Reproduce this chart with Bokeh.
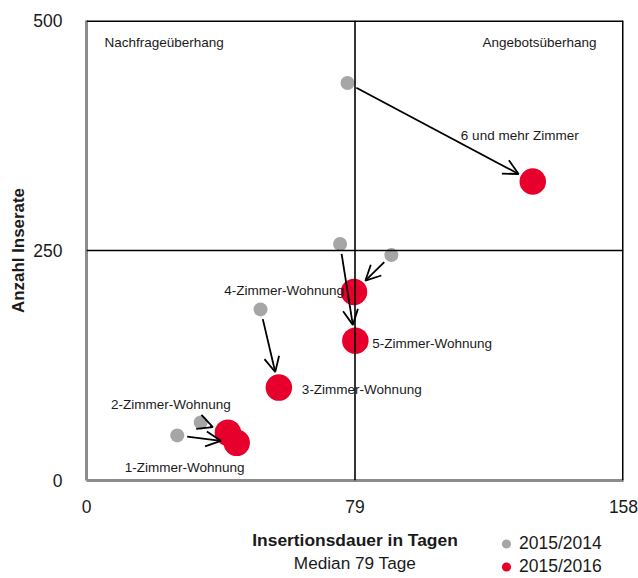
import math
from bokeh.plotting import figure
from bokeh.layouts import column
from bokeh.models import (ColumnDataSource, Range1d, FixedTicker, Span, Arrow, OpenHead,
                          Label, Legend, LegendItem)
from bokeh.embed import file_html
from bokeh.resources import INLINE

# ---------------- data ----------------
categories = ["1-Zimmer-Wohnung", "2-Zimmer-Wohnung", "3-Zimmer-Wohnung",
              "4-Zimmer-Wohnung", "5-Zimmer-Wohnung", "6 und mehr Zimmer"]
dauer_2014 = [26.7, 33.6, 51.2, 89.7, 74.6, 76.8]
inserate_2014 = [49, 63, 186, 245, 257, 432]
dauer_2016 = [44.2, 41.6, 56.6, 78.7, 79.1, 131.3]
inserate_2016 = [41, 52, 101, 205, 152, 325]
median_dauer = 79
median_inserate = 250
x_ticks = [0, 79, 158]
y_ticks = [0, 250, 500]
series_names = ["2015/2014", "2015/2016"]
quadrant_texts = ["Nachfrageüberhang", "Angebotsüberhang"]
x_title = "Insertionsdauer in Tagen"
x_subtitle = "Median 79 Tage"
y_title = "Anzahl Inserate"

# ---------------- layout ----------------
W, H = 638, 578
LEFT, TOP = 86, 20
FW, FH = 537, 460
RIGHT = W - LEFT - FW
H1 = 520            # main figure height (frame + tick labels)
H2 = H - H1         # footer with x title and legend

FONT = "Liberation Sans"
GRAY = "#a6a6a6"
RED = "#e8002c"
TXT = "#1a1a1a"
AXIS_GRAY = "#8c8c8c"

p = figure(width=W, height=H1, output_backend="svg", toolbar_location=None,
           x_range=Range1d(0, 158), y_range=Range1d(0, 500),
           min_border_left=LEFT, min_border_right=RIGHT,
           min_border_top=TOP, min_border_bottom=H1 - TOP - FH)
p.xgrid.visible = False
p.ygrid.visible = False
p.outline_line_color = None
p.background_fill_color = "white"
p.border_fill_color = "white"

for ax, ticks, standoff in ((p.xaxis[0], x_ticks, 13), (p.yaxis[0], y_ticks, 18)):
    ax.ticker = FixedTicker(ticks=ticks)
    ax.major_tick_line_color = None
    ax.minor_tick_line_color = None
    ax.axis_line_color = AXIS_GRAY
    ax.axis_line_width = 3
    ax.major_label_text_font = FONT
    ax.major_label_text_font_size = "17.5px"
    ax.major_label_text_color = TXT
    ax.major_label_standoff = standoff

# y axis title
p.yaxis[0].axis_label = y_title
p.yaxis[0].axis_label_text_font = FONT
p.yaxis[0].axis_label_text_font_style = "bold"
p.yaxis[0].axis_label_text_font_size = "16.9px"
p.yaxis[0].axis_label_text_color = TXT
p.yaxis[0].axis_label_standoff = 2

# top / right border and median lines
p.add_layout(Span(location=500, dimension="width", line_color="black", line_width=3))
p.add_layout(Span(location=158, dimension="height", line_color="black", line_width=3))
p.add_layout(Span(location=median_dauer, dimension="height", line_color="black", line_width=1.6))
p.add_layout(Span(location=median_inserate, dimension="width", line_color="black", line_width=1.6))

# arrows (shortened in screen pixels)
sx = FW / 158.0
sy = FH / 500.0
xs, ys, xe, ye = [], [], [], []
for x0, y0, x1, y1 in zip(dauer_2014, inserate_2014, dauer_2016, inserate_2016):
    dx = (x1 - x0) * sx
    dy = (y1 - y0) * sy
    d = math.hypot(dx, dy)
    s0, s1 = 10.0 / d, 1 - 16.0 / d
    xs.append(x0 + (x1 - x0) * s0)
    ys.append(y0 + (y1 - y0) * s0)
    xe.append(x0 + (x1 - x0) * s1)
    ye.append(y0 + (y1 - y0) * s1)
arr_src = ColumnDataSource(dict(xs=xs, ys=ys, xe=xe, ye=ye))
p.add_layout(Arrow(x_start="xs", y_start="ys", x_end="xe", y_end="ye", source=arr_src,
                   line_color="black", line_width=1.8,
                   end=OpenHead(size=15, line_width=1.8, line_color="black")))

src14 = ColumnDataSource(dict(x=dauer_2014, y=inserate_2014))
src16 = ColumnDataSource(dict(x=dauer_2016, y=inserate_2016))
p.scatter("x", "y", source=src14, size=14, fill_color=GRAY, line_color=None)
p.scatter("x", "y", source=src16, size=26.5, fill_color=RED, line_color=None)

# point labels (offsets in screen px relative to 2016 point; +y = down)
offsets = {
    "1-Zimmer-Wohnung": (-52, 25, "center"),
    "2-Zimmer-Wohnung": (-57, -28, "center"),
    "3-Zimmer-Wohnung": (23, 1.5, "left"),
    "4-Zimmer-Wohnung": (-10, -1.5, "right"),
    "5-Zimmer-Wohnung": (17, 3, "left"),
    "6 und mehr Zimmer": (-13, -46, "center"),
}
LBL_SIZE = "13.5px"
for cat, x1, y1 in zip(categories, dauer_2016, inserate_2016):
    ox, oy, al = offsets[cat]
    p.add_layout(Label(x=x1, y=y1, text=cat, x_offset=ox, y_offset=-oy,
                       text_align=al, text_baseline="middle",
                       text_font=FONT, text_font_size=LBL_SIZE, text_color=TXT))

# quadrant labels
p.add_layout(Label(x=18, y=FH - 22, x_units="screen", y_units="screen",
                   text=quadrant_texts[0], text_align="left", text_baseline="middle",
                   text_font=FONT, text_font_size=LBL_SIZE, text_color=TXT))
p.add_layout(Label(x=FW - 27, y=FH - 22, x_units="screen", y_units="screen",
                   text=quadrant_texts[1], text_align="right", text_baseline="middle",
                   text_font=FONT, text_font_size=LBL_SIZE, text_color=TXT))

# ---------------- footer: x title + legend ----------------
f = figure(width=W, height=H2, output_backend="svg", toolbar_location=None,
           x_range=p.x_range, y_range=Range1d(0, 1),
           x_axis_location=None, y_axis_location=None,
           min_border_left=LEFT, min_border_right=RIGHT,
           min_border_top=0, min_border_bottom=0)
f.xgrid.visible = False
f.ygrid.visible = False
f.outline_line_color = None
f.border_fill_color = "white"
f.background_fill_color = "white"

f.add_layout(Label(x=median_dauer, y=H2 - 19, y_units="screen", text=x_title,
                   text_align="center", text_baseline="middle", text_font=FONT,
                   text_font_style="bold", text_font_size="17.4px", text_color=TXT))
f.add_layout(Label(x=median_dauer, y=H2 - 42, y_units="screen", text=x_subtitle,
                   text_align="center", text_baseline="middle", text_font=FONT,
                   text_font_size="17.2px", text_color=TXT))

# legend proxies: same series, they fall outside this footer's y range so only the legend shows
l14 = f.scatter("x", "y", source=src14, fill_color=GRAY, line_color=None)
l16 = f.scatter("x", "y", source=src16, fill_color=RED, line_color=None)
legend = Legend(items=[LegendItem(label=series_names[0], renderers=[l14], index=0),
                       LegendItem(label=series_names[1], renderers=[l16], index=0)],
                location=(407, 0), orientation="vertical",
                glyph_width=26, glyph_height=23, label_height=23, spacing=0,
                label_standoff=-4, padding=0, margin=0,
                border_line_color=None, background_fill_alpha=0,
                label_text_font=FONT, label_text_font_size="17.5px",
                label_text_color=TXT)
f.add_layout(legend, "center")

layout = column(p, f, spacing=0)
open("out.html", "w").write(file_html(layout, INLINE))
